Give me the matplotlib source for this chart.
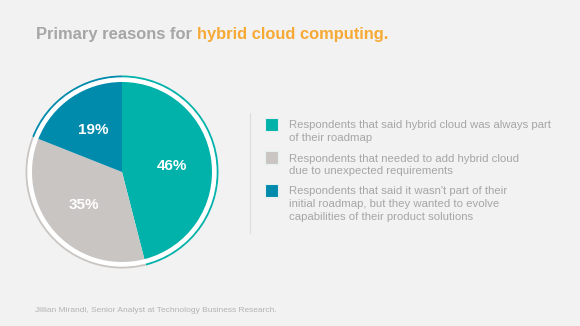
import numpy as np
import matplotlib.pyplot as plt

# survey shares, clockwise from the top
labels = ["46%", "35%", "19%"]
shares = [46, 35, 19]
colors = ["#00b2a9", "#c9c5c2", "#008aab"]
legend_text = [
    "Respondents that said hybrid cloud was always part\nof their roadmap",
    "Respondents that needed to add hybrid cloud\ndue to unexpected requirements",
    "Respondents that said it wasn't part of their\ninitial roadmap, but they wanted to evolve\ncapabilities of their product solutions",
]
title_a = "Primary reasons for "
title_b = "hybrid cloud computing."
credit = "Jillian Mirandi, Senior Analyst at Technology Business Research."

W, H = 580, 326
bg = "#f2f2f2"
plt.rcParams['font.family'] = ['Liberation Sans', 'DejaVu Sans']

fig = plt.figure(figsize=(W / 100, H / 100), dpi=100, facecolor=bg)


def px(x, y):
    return x / W, 1 - y / H


# pie, centred at (122, 172) px
cx, cy, r = 122, 172, 100
ax = fig.add_axes([(cx - r) / W, 1 - (cy + r) / H, 2 * r / W, 2 * r / H])
ax.set_facecolor(bg)

# thin outer ring, white gap, then the main pie
ax.pie(shares, colors=colors, startangle=90, counterclock=False, radius=0.965,
       wedgeprops=dict(linewidth=0))
ax.add_patch(plt.Circle((0, 0), 0.94, color='white', zorder=2))
wedges, texts = ax.pie(shares, colors=colors, startangle=90, counterclock=False,
                       radius=0.9, labels=labels, labeldistance=0.56,
                       wedgeprops=dict(linewidth=0, zorder=3),
                       textprops=dict(color='white', fontsize=11, fontweight='bold'))
for t in texts:
    t.set_zorder(4)
    t.set_ha('center')
    t.set_va('center')
ax.set_xlim(-1, 1)
ax.set_ylim(-1, 1)
ax.set_aspect('equal')
ax.axis('off')

# title in two colours
t1 = fig.text(*px(36, 34), title_a, color='#a6a6a6', fontsize=11.9, fontweight='bold',
              va='center', ha='left')
fig.canvas.draw()
bb = t1.get_window_extent()
fig.text(bb.x1 / W, 1 - 34 / H, title_b, color='#f7a935', fontsize=11.9,
         fontweight='bold', va='center', ha='left')

# legend
fig.add_artist(plt.Line2D([250 / W, 250 / W], [1 - 113 / H, 1 - 233 / H],
                          color='#dddddd', linewidth=0.8))
rows_y = [118, 151, 184]
for y, c, txt in zip(rows_y, colors, legend_text):
    sq = plt.Rectangle(px(265, y + 13), 13 / W, 13 / H, transform=fig.transFigure,
                       facecolor=c, edgecolor='#e6f0f0', linewidth=0.8)
    fig.add_artist(sq)
    fig.text(*px(289, y + 2.5), txt, color='#a6a6a6', fontsize=8.2, va='top', ha='left',
             linespacing=1.35)

fig.text(*px(35, 310), credit, color='#b3b3b3', fontsize=6.0, va='center', ha='left')

fig.savefig('out.png', dpi=100, facecolor=bg)
